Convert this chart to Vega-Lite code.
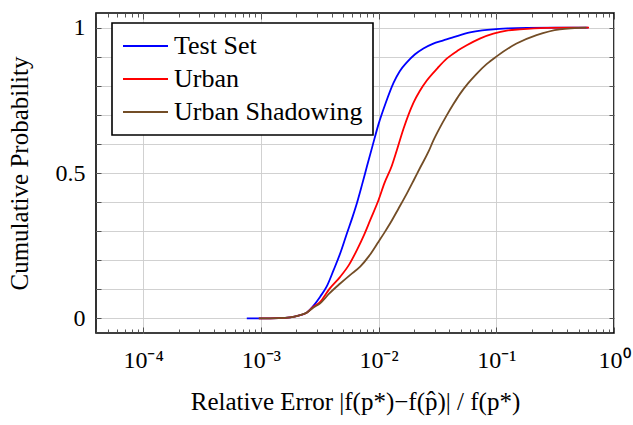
{
  "$schema": "https://vega.github.io/schema/vega-lite/v6.json",
  "width": 518,
  "height": 320,
  "autosize": {"type": "none"},
  "padding": {"left": 96, "top": 13, "right": 19, "bottom": 92},
  "background": "white",
  "config": {
    "view": {"stroke": "black", "strokeWidth": 1.6},
    "font": "Liberation Serif",
    "axis": {
      "domain": false,
      "tickColor": "#444444",
      "tickWidth": 0.9,
      "gridColor": "#cccccc",
      "gridWidth": 0.9,
      "labelFont": "Liberation Serif",
      "titleFont": "Liberation Serif",
      "labelColor": "black",
      "titleColor": "black",
      "titleFontWeight": "normal",
      "labelFontSize": 24,
      "titleFontSize": 25,
      "labelOverlap": false,
      "labelFlush": false
    }
  },
  "data": {
    "values": [
      {"s": "Test Set", "x": 0.00076, "y": 0},
      {"s": "Test Set", "x": 0.001, "y": 0},
      {"s": "Test Set", "x": 0.001413, "y": 0.001},
      {"s": "Test Set", "x": 0.001778, "y": 0.004},
      {"s": "Test Set", "x": 0.002089, "y": 0.01},
      {"s": "Test Set", "x": 0.002455, "y": 0.02},
      {"s": "Test Set", "x": 0.002818, "y": 0.045},
      {"s": "Test Set", "x": 0.003192, "y": 0.075},
      {"s": "Test Set", "x": 0.003631, "y": 0.11},
      {"s": "Test Set", "x": 0.00415, "y": 0.166},
      {"s": "Test Set", "x": 0.004786, "y": 0.23},
      {"s": "Test Set", "x": 0.005383, "y": 0.292},
      {"s": "Test Set", "x": 0.006026, "y": 0.35},
      {"s": "Test Set", "x": 0.006546, "y": 0.396},
      {"s": "Test Set", "x": 0.007244, "y": 0.46},
      {"s": "Test Set", "x": 0.007962, "y": 0.522},
      {"s": "Test Set", "x": 0.008913, "y": 0.595},
      {"s": "Test Set", "x": 0.01, "y": 0.668},
      {"s": "Test Set", "x": 0.01148, "y": 0.74},
      {"s": "Test Set", "x": 0.0134, "y": 0.81},
      {"s": "Test Set", "x": 0.01514, "y": 0.85},
      {"s": "Test Set", "x": 0.01738, "y": 0.88},
      {"s": "Test Set", "x": 0.02042, "y": 0.908},
      {"s": "Test Set", "x": 0.02404, "y": 0.928},
      {"s": "Test Set", "x": 0.02884, "y": 0.944},
      {"s": "Test Set", "x": 0.03556, "y": 0.956},
      {"s": "Test Set", "x": 0.04571, "y": 0.97},
      {"s": "Test Set", "x": 0.05984, "y": 0.983},
      {"s": "Test Set", "x": 0.07586, "y": 0.99},
      {"s": "Test Set", "x": 0.09441, "y": 0.994},
      {"s": "Test Set", "x": 0.1259, "y": 0.997},
      {"s": "Test Set", "x": 0.1807, "y": 0.999},
      {"s": "Test Set", "x": 0.3162, "y": 1.0},
      {"s": "Test Set", "x": 0.6026, "y": 1.0},
      {"s": "Urban", "x": 0.000962, "y": 0},
      {"s": "Urban", "x": 0.001413, "y": 0.001},
      {"s": "Urban", "x": 0.001778, "y": 0.004},
      {"s": "Urban", "x": 0.002089, "y": 0.01},
      {"s": "Urban", "x": 0.002455, "y": 0.02},
      {"s": "Urban", "x": 0.002799, "y": 0.04},
      {"s": "Urban", "x": 0.003192, "y": 0.057},
      {"s": "Urban", "x": 0.003802, "y": 0.1},
      {"s": "Urban", "x": 0.004721, "y": 0.143},
      {"s": "Urban", "x": 0.005623, "y": 0.185},
      {"s": "Urban", "x": 0.006546, "y": 0.235},
      {"s": "Urban", "x": 0.007586, "y": 0.29},
      {"s": "Urban", "x": 0.008492, "y": 0.338},
      {"s": "Urban", "x": 0.01, "y": 0.407},
      {"s": "Urban", "x": 0.01122, "y": 0.465},
      {"s": "Urban", "x": 0.01297, "y": 0.525},
      {"s": "Urban", "x": 0.01432, "y": 0.579},
      {"s": "Urban", "x": 0.01629, "y": 0.652},
      {"s": "Urban", "x": 0.01982, "y": 0.742},
      {"s": "Urban", "x": 0.02239, "y": 0.782},
      {"s": "Urban", "x": 0.0257, "y": 0.818},
      {"s": "Urban", "x": 0.03162, "y": 0.86},
      {"s": "Urban", "x": 0.03793, "y": 0.893},
      {"s": "Urban", "x": 0.04677, "y": 0.92},
      {"s": "Urban", "x": 0.0561, "y": 0.939},
      {"s": "Urban", "x": 0.07244, "y": 0.962},
      {"s": "Urban", "x": 0.09441, "y": 0.979},
      {"s": "Urban", "x": 0.1259, "y": 0.99},
      {"s": "Urban", "x": 0.1585, "y": 0.994},
      {"s": "Urban", "x": 0.2673, "y": 0.999},
      {"s": "Urban", "x": 0.6138, "y": 1.0},
      {"s": "Urban Shadowing", "x": 0.000962, "y": 0},
      {"s": "Urban Shadowing", "x": 0.001413, "y": 0.001},
      {"s": "Urban Shadowing", "x": 0.001778, "y": 0.004},
      {"s": "Urban Shadowing", "x": 0.002089, "y": 0.01},
      {"s": "Urban Shadowing", "x": 0.002455, "y": 0.02},
      {"s": "Urban Shadowing", "x": 0.002799, "y": 0.038},
      {"s": "Urban Shadowing", "x": 0.003192, "y": 0.052},
      {"s": "Urban Shadowing", "x": 0.003802, "y": 0.085},
      {"s": "Urban Shadowing", "x": 0.004721, "y": 0.12},
      {"s": "Urban Shadowing", "x": 0.005754, "y": 0.15},
      {"s": "Urban Shadowing", "x": 0.006982, "y": 0.178},
      {"s": "Urban Shadowing", "x": 0.008318, "y": 0.215},
      {"s": "Urban Shadowing", "x": 0.01, "y": 0.264},
      {"s": "Urban Shadowing", "x": 0.01122, "y": 0.295},
      {"s": "Urban Shadowing", "x": 0.01256, "y": 0.327},
      {"s": "Urban Shadowing", "x": 0.01479, "y": 0.378},
      {"s": "Urban Shadowing", "x": 0.01742, "y": 0.43},
      {"s": "Urban Shadowing", "x": 0.01995, "y": 0.476},
      {"s": "Urban Shadowing", "x": 0.02254, "y": 0.518},
      {"s": "Urban Shadowing", "x": 0.02661, "y": 0.574},
      {"s": "Urban Shadowing", "x": 0.02924, "y": 0.612},
      {"s": "Urban Shadowing", "x": 0.03311, "y": 0.655},
      {"s": "Urban Shadowing", "x": 0.03793, "y": 0.698},
      {"s": "Urban Shadowing", "x": 0.04315, "y": 0.736},
      {"s": "Urban Shadowing", "x": 0.0492, "y": 0.772},
      {"s": "Urban Shadowing", "x": 0.05754, "y": 0.808},
      {"s": "Urban Shadowing", "x": 0.06808, "y": 0.841},
      {"s": "Urban Shadowing", "x": 0.08318, "y": 0.875},
      {"s": "Urban Shadowing", "x": 0.1, "y": 0.9},
      {"s": "Urban Shadowing", "x": 0.1486, "y": 0.945},
      {"s": "Urban Shadowing", "x": 0.2198, "y": 0.974},
      {"s": "Urban Shadowing", "x": 0.3467, "y": 0.994},
      {"s": "Urban Shadowing", "x": 0.5834, "y": 1.0}
    ]
  },
  "layer": [
    {
      "mark": {"type": "line", "strokeWidth": 1.8, "interpolate": "monotone"},
      "encoding": {
        "x": {
          "field": "x",
          "type": "quantitative",
          "scale": {"type": "log", "domain": [0.00003981, 1], "nice": false},
          "axis": {
            "orient": "bottom",
            "values": [0.0001, 0.001, 0.01, 0.1, 1],
            "grid": true,
            "tickSize": -6,
            "labelPadding": 21,
            "labelExpr": "datum.value == 0.0001 ? '10⁻⁴' : datum.value == 0.001 ? '10⁻³' : datum.value == 0.01 ? '10⁻²' : datum.value == 0.1 ? '10⁻¹' : '10⁰'",
            "title": "Relative Error  |f(p*)−f(p̂)| / f(p*)",
            "titlePadding": 17
          }
        },
        "y": {
          "field": "y",
          "type": "quantitative",
          "scale": {"domain": [-0.05, 1.05], "nice": false, "zero": false},
          "axis": {
            "orient": "left",
            "values": [0, 0.1, 0.2, 0.3, 0.4, 0.5, 0.6, 0.7, 0.8, 0.9, 1],
            "grid": true,
            "tickSize": -5,
            "labelPadding": 16,
            "labelExpr": "datum.value == 0 ? '0' : datum.value == 0.5 ? '0.5' : datum.value == 1 ? '1' : ''",
            "title": "Cumulative Probability",
            "titlePadding": 23
          }
        },
        "color": {
          "field": "s",
          "type": "nominal",
          "scale": {
            "domain": ["Test Set", "Urban", "Urban Shadowing"],
            "range": ["#0000ff", "#ff0000", "#734d26"]
          },
          "legend": {
            "orient": "none",
            "legendX": 16,
            "legendY": 10,
            "title": null,
            "symbolType": "stroke",
            "symbolSize": 2025,
            "symbolStrokeWidth": 1.8,
            "clipHeight": 26,
            "rowPadding": 7,
            "labelFont": "Liberation Serif",
            "labelFontSize": 26,
            "labelColor": "black",
            "labelOffset": 5,
            "labelLimit": 400,
            "strokeColor": "black",
            "fillColor": "white",
            "padding": 10,
            "encode": {"legend": {"update": {"strokeWidth": {"value": 1.6}}}}
          }
        }
      }
    },
    {
      "mark": {"type": "line", "opacity": 0},
      "encoding": {
        "x": {
          "field": "x",
          "type": "quantitative",
          "axis": {
            "orient": "top",
            "values": [0.0001, 0.001, 0.01, 0.1, 1],
            "grid": false,
            "labels": false,
            "tickSize": -6,
            "title": null
          }
        },
        "y": {
          "field": "y",
          "type": "quantitative",
          "axis": {
            "orient": "right",
            "values": [0, 0.1, 0.2, 0.3, 0.4, 0.5, 0.6, 0.7, 0.8, 0.9, 1],
            "grid": false,
            "labels": false,
            "tickSize": -5,
            "title": null
          }
        }
      }
    },
    {
      "mark": {"type": "line", "opacity": 0},
      "encoding": {
        "x": {
          "field": "x",
          "type": "quantitative",
          "axis": {
            "orient": "bottom",
            "values": [0.00004, 0.00005, 0.00006, 0.00007, 0.00008, 0.00009, 0.0002, 0.0003, 0.0004, 0.0005, 0.0006, 0.0007, 0.0008, 0.0009, 0.002, 0.003, 0.004, 0.005, 0.006, 0.007, 0.008, 0.009, 0.02, 0.03, 0.04, 0.05, 0.06, 0.07, 0.08, 0.09, 0.2, 0.3, 0.4, 0.5, 0.6, 0.7, 0.8, 0.9],
            "grid": false,
            "labels": false,
            "tickSize": -4,
            "title": null
          }
        },
        "y": {"field": "y", "type": "quantitative", "axis": null}
      }
    },
    {
      "mark": {"type": "line", "opacity": 0},
      "encoding": {
        "x": {
          "field": "x",
          "type": "quantitative",
          "axis": {
            "orient": "top",
            "values": [0.00004, 0.00005, 0.00006, 0.00007, 0.00008, 0.00009, 0.0002, 0.0003, 0.0004, 0.0005, 0.0006, 0.0007, 0.0008, 0.0009, 0.002, 0.003, 0.004, 0.005, 0.006, 0.007, 0.008, 0.009, 0.02, 0.03, 0.04, 0.05, 0.06, 0.07, 0.08, 0.09, 0.2, 0.3, 0.4, 0.5, 0.6, 0.7, 0.8, 0.9],
            "grid": false,
            "labels": false,
            "tickSize": -4,
            "title": null
          }
        },
        "y": {"field": "y", "type": "quantitative", "axis": null}
      }
    }
  ],
  "resolve": {"axis": {"x": "independent", "y": "independent"}}
}
